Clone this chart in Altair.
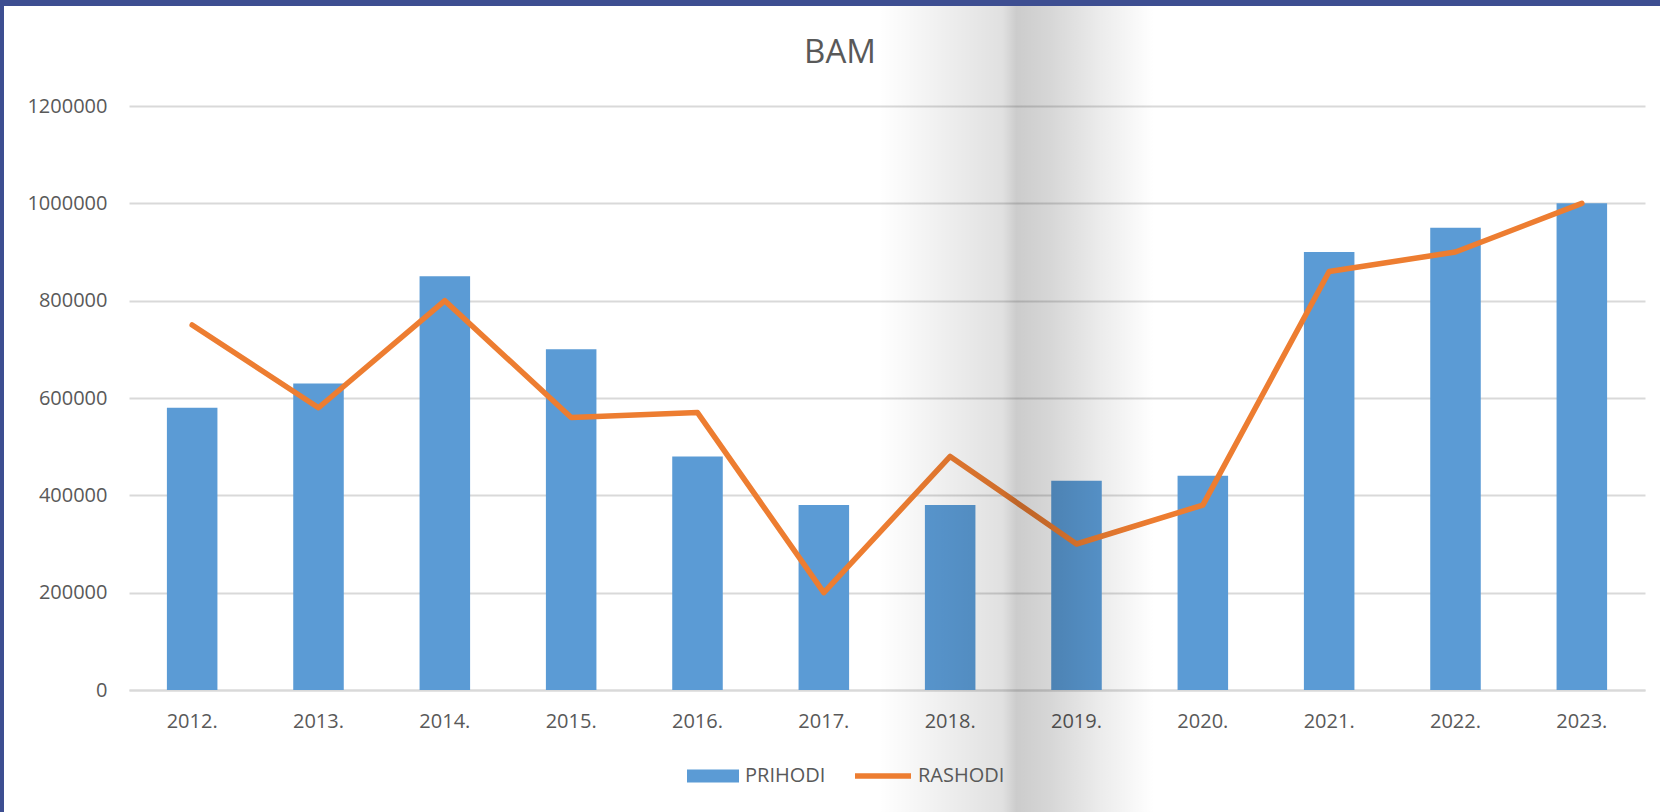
import altair as alt
import pandas as pd

years = ["2012.", "2013.", "2014.", "2015.", "2016.", "2017.",
         "2018.", "2019.", "2020.", "2021.", "2022.", "2023."]
prihodi = [580000, 630000, 850000, 700000, 480000, 380000,
           380000, 430000, 440000, 900000, 950000, 1000000]
rashodi = [750000, 580000, 800000, 560000, 570000, 200000,
           480000, 300000, 380000, 860000, 900000, 1000000]
y_ticks = [0, 200000, 400000, 600000, 800000, 1000000, 1200000]
title_text = "BAM"

df = pd.DataFrame({"year": years, "PRIHODI": prihodi, "RASHODI": rashodi})
df["s1"] = "PRIHODI"
df["s2"] = "RASHODI"

FONT = "Open Sans"
TXT = "#595959"
BLUE = "#5B9BD5"
ORANGE = "#ED7D31"

x_enc = alt.X("year:N", sort=None, title=None,
              scale=alt.Scale(paddingInner=0.6, paddingOuter=0.3),
              axis=alt.Axis(labelAngle=0, ticks=False, domain=True,
                            domainColor="#D9D9D9", domainWidth=2,
                            labelPadding=21, labelFontSize=20,
                            labelFont=FONT, labelColor=TXT))

y_scale = alt.Scale(domain=[0, 1200000], nice=False)

bars = alt.Chart(df).mark_bar().encode(
    x=x_enc,
    y=alt.Y("PRIHODI:Q", scale=y_scale, title=None,
            axis=alt.Axis(values=y_ticks, grid=True, gridColor="#D9D9D9",
                          gridWidth=2, domain=False, ticks=False,
                          labelPadding=22, labelFontSize=20, labelFont=FONT,
                          labelColor=TXT, format="d")),
    fill=alt.Fill("s1:N", scale=alt.Scale(domain=["PRIHODI"], range=[BLUE]),
                  legend=alt.Legend(title=None, orient="none", legendX=558,
                                    legendY=644, symbolType="M-1,-0.25H1V0.25H-1Z",
                                    symbolSize=2704, symbolStrokeWidth=0,
                                    labelOffset=6, labelFontSize=20,
                                    labelFont=FONT, labelColor=TXT, padding=0)),
)

line = alt.Chart(df).mark_line(strokeWidth=5.5, strokeCap="round",
                               strokeJoin="round").encode(
    x=alt.X("year:N", sort=None),
    y=alt.Y("RASHODI:Q", scale=y_scale),
    stroke=alt.Stroke("s2:N", scale=alt.Scale(domain=["RASHODI"], range=[ORANGE]),
                      legend=alt.Legend(title=None, orient="none", legendX=723,
                                        legendY=639, symbolType="stroke",
                                        symbolSize=3136, symbolStrokeWidth=5.5,
                                        labelOffset=4, labelFontSize=20,
                                        labelFont=FONT, labelColor=TXT, padding=0)),
)

title = alt.Chart(pd.DataFrame({"t": [title_text]})).mark_text(
    font=FONT, fontSize=33, color=TXT, align="center", baseline="alphabetic"
).encode(text="t:N", x=alt.value(711), y=alt.value(-43))

# photo fold shadow (decorative)
shadow = alt.Chart(df.head(1)).mark_rect(
    fill=alt.Gradient(gradient="linear", x1=0, x2=1, y1=0, y2=0,
                      stops=[alt.GradientStop(offset=0, color="rgba(0,0,0,0)"),
                             alt.GradientStop(offset=0.45, color="rgba(0,0,0,0.12)"),
                             alt.GradientStop(offset=0.5, color="rgba(0,0,0,0.2)"),
                             alt.GradientStop(offset=0.62, color="rgba(0,0,0,0.16)"),
                             alt.GradientStop(offset=0.8, color="rgba(0,0,0,0.08)"),
                             alt.GradientStop(offset=1, color="rgba(0,0,0,0)")]),
    clip=False
).encode(x=alt.value(750), x2=alt.value(1025), y=alt.value(-100), y2=alt.value(706))

border_top = alt.Chart(df.head(1)).mark_rect(color="#3D4E91", clip=False).encode(
    x=alt.value(-129), x2=alt.value(1531), y=alt.value(-106), y2=alt.value(-100))
border_left = alt.Chart(df.head(1)).mark_rect(color="#3D4E91", clip=False).encode(
    x=alt.value(-129), x2=alt.value(-125), y=alt.value(-106), y2=alt.value(706))

chart = alt.layer(bars, line, title, shadow, border_top, border_left).resolve_scale(
    fill="independent", stroke="independent"
).properties(
    width=1516, height=584,
    padding={"left": 129, "top": 106, "right": 15, "bottom": 122},
    autosize=alt.AutoSizeParams(type="none"),
    background="white",
).configure_view(stroke=None)

chart.save("out.html", embed_options={"renderer": "svg", "actions": False})
